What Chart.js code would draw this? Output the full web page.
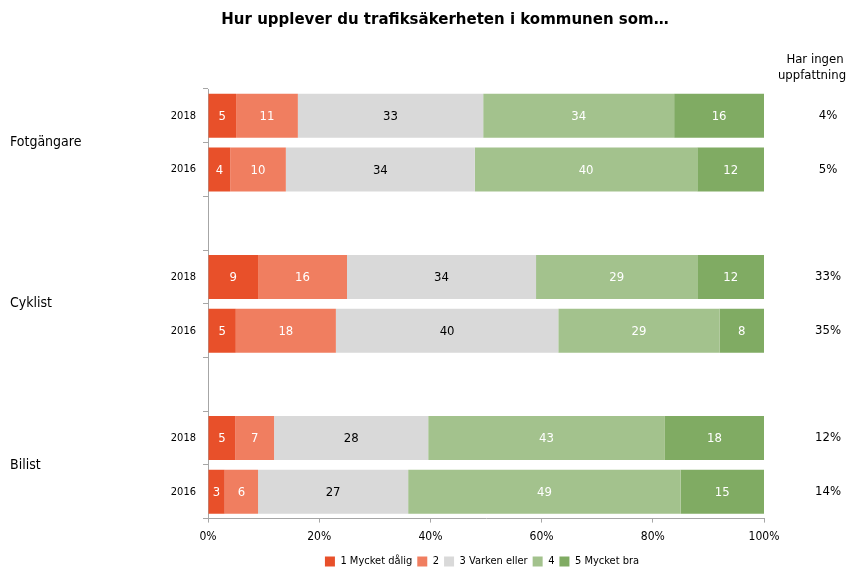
<!DOCTYPE html>
<html>
<head>
<meta charset="utf-8">
<script src="https://cdn.jsdelivr.net/npm/chart.js@4"></script>
<style>
  body { margin: 0; background: #fff; }
  #wrap { width: 863px; height: 570px; }
</style>
</head>
<body>
<div id="wrap"><canvas id="myChart" width="863" height="570"></canvas></div>
<script>
//data
const categories = ["2018", "2016", "", "2018", "2016", "", "2018", "2016"];
const groups = ["Fotgängare", "Cyklist", "Bilist"];
const seriesNames = ["1 Mycket dålig", "2", "3 Varken eller", "4", "5 Mycket bra"];
const mycketDalig = [5, 4, null, 9, 5, null, 5, 3];
const tva = [11, 10, null, 16, 18, null, 7, 6];
const varkenEller = [33, 34, null, 34, 40, null, 28, 27];
const fyra = [34, 40, null, 29, 29, null, 43, 49];
const mycketBra = [16, 12, null, 12, 8, null, 18, 15];
const ingenUppfattning = ["4%", "5%", "", "33%", "35%", "", "12%", "14%"];
const xTicks = [0, 20, 40, 60, 80, 100];

const colors = ["#E8502A", "#F07E60", "#D9D9D9", "#A3C28D", "#80AB63"];
const labelColors = ["#fff", "#fff", "#000", "#fff", "#fff"];
const FONT = "'DejaVu Sans Condensed', 'DejaVu Sans'";

let series = [mycketDalig, tva, varkenEller, fyra, mycketBra];

//totals per row so every bar fills 100%
let totals = categories.map(function(c, j) {
  let sum = 0;
  for (let s of series) {
    if (s[j] != null) sum += s[j];
  }
  return sum;
});

let datasets = series.map(function(s, i) {
  return {
    label: seriesNames[i],
    data: s.map((v, j) => (v == null ? null : (v / totals[j]) * 100)),
    raw: s,
    backgroundColor: colors[i],
    borderWidth: 0,
    barPercentage: 0.82,
    categoryPercentage: 1
  };
});

//draw numbers inside bars, years, group names and right column
const extraText = {
  id: "extraText",
  afterDatasetsDraw(chart) {
    let ctx = chart.ctx;
    ctx.save();
    ctx.textAlign = "center";
    ctx.textBaseline = "middle";
    ctx.font = "13px " + FONT;
    chart.data.datasets.forEach(function(ds, i) {
      let meta = chart.getDatasetMeta(i);
      meta.data.forEach(function(bar, j) {
        if (ds.raw[j] == null) return;
        ctx.fillStyle = labelColors[i];
        ctx.fillText(ds.raw[j], (bar.x + bar.base) / 2, bar.y + 1);
      });
    });

    let y = chart.scales.y;
    ctx.fillStyle = "#000";
    //years
    ctx.textAlign = "right";
    ctx.font = "11px " + FONT;
    categories.forEach(function(c, j) {
      if (c) ctx.fillText(c, 196, y.getPixelForValue(j));
    });

    //group labels on the left
    ctx.textAlign = "left";
    ctx.font = "14px " + FONT;
    groups.forEach(function(g, k) {
      let yy = (y.getPixelForValue(k * 3) + y.getPixelForValue(k * 3 + 1)) / 2;
      ctx.fillText(g, 10, yy);
    });

    //right column
    ctx.textAlign = "center";
    ctx.font = "13px " + FONT;
    ctx.fillText("Har ingen", 815, 60);
    ctx.fillText("uppfattning", 812, 76);
    ingenUppfattning.forEach(function(t, j) {
      if (t) ctx.fillText(t, 828, y.getPixelForValue(j));
    });

    //title
    ctx.font = "bold 15px 'DejaVu Sans'";
    ctx.fillText("Hur upplever du trafiksäkerheten i kommunen som…", 445, 20);
    ctx.restore();
  }
};

function loadChart() {
  let ctx = document.getElementById("myChart").getContext("2d");
  new Chart(ctx, {
    type: "bar",
    data: {
      labels: categories,
      datasets: datasets
    },
    options: {
      indexAxis: "y",
      responsive: false,
      animation: false,
      layout: {
        padding: { top: 89, right: 99, left: 200, bottom: -7 }
      },
      scales: {
        x: {
          stacked: true,
          min: 0,
          max: 100,
          afterBuildTicks: function(scale) {
            scale.ticks = xTicks.map(v => ({ value: v }));
          },
          ticks: {
            callback: v => v + "%",
            color: "#000",
            font: { family: FONT, size: 12 },
            padding: 7
          },
          grid: {
            drawOnChartArea: false,
            drawTicks: true,
            tickLength: 4,
            color: "#A6A6A6"
          },
          border: { color: "#A6A6A6" }
        },
        y: {
          stacked: true,
          afterFit: function(scale) {
            scale.width = 8;
          },
          ticks: { display: false },
          grid: {
            drawOnChartArea: false,
            drawTicks: true,
            tickLength: 5,
            color: "#A6A6A6"
          },
          border: { color: "#A6A6A6" }
        }
      },
      plugins: {
        legend: {
          position: "bottom",
          labels: {
            boxWidth: 10,
            boxHeight: 10,
            padding: 5,
            color: "#000",
            font: { family: FONT, size: 11 }
          }
        },
        tooltip: { enabled: false }
      }
    },
    plugins: [extraText]
  });
}

window.onload = function() {
  loadChart();
};
</script>
</body>
</html>
